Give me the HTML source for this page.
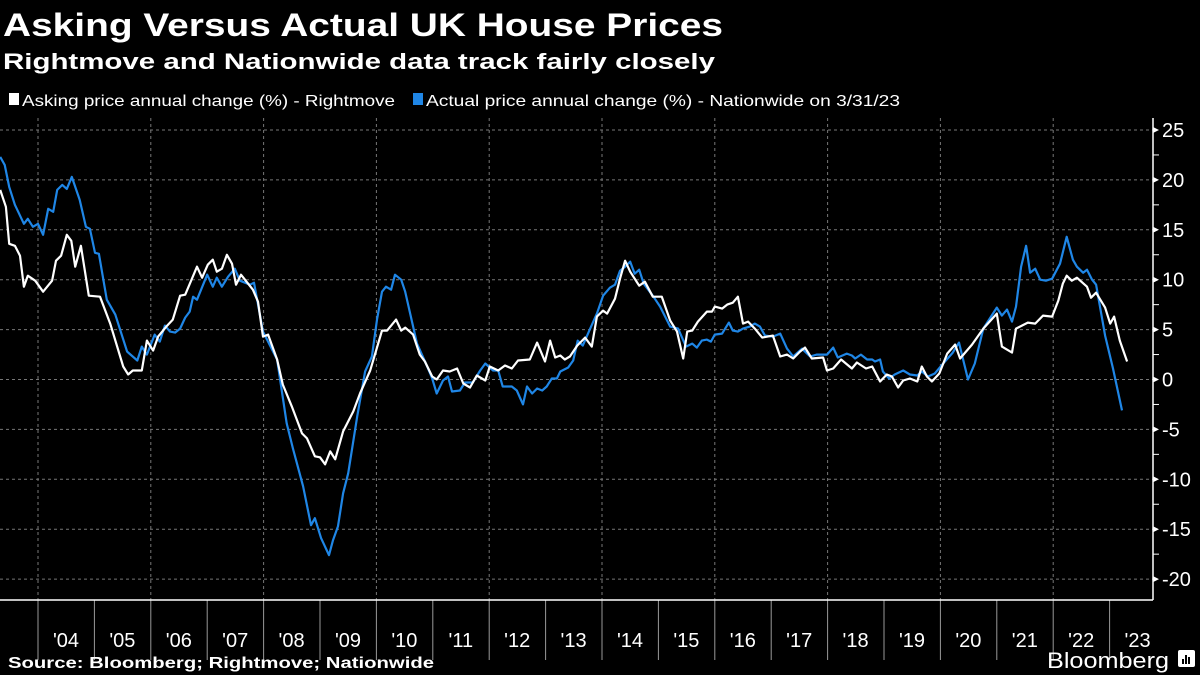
<!DOCTYPE html>
<html><head><meta charset="utf-8"><style>
html,body{margin:0;padding:0;background:#000;}
svg{display:block;}
text{font-family:"Liberation Sans",sans-serif;fill:#fff;}
</style></head><body>
<svg id="chart" width="1200" height="675" viewBox="0 0 1200 675" xmlns="http://www.w3.org/2000/svg">
<rect width="1200" height="675" fill="#000"/>
<text x="3" y="36" font-size="32" font-weight="bold" textLength="720" lengthAdjust="spacingAndGlyphs">Asking Versus Actual UK House Prices</text>
<text x="3" y="69" font-size="22" font-weight="bold" textLength="712" lengthAdjust="spacingAndGlyphs">Rightmove and Nationwide data track fairly closely</text>
<g>
<rect x="9" y="93" width="10" height="12" fill="#fff"/>
<text x="22" y="106" font-size="16" textLength="373" lengthAdjust="spacingAndGlyphs">Asking price annual change (%) - Rightmove</text>
<rect x="413" y="93" width="10" height="12" fill="#1f86e6"/>
<text x="426" y="106" font-size="16" textLength="474" lengthAdjust="spacingAndGlyphs">Actual price annual change (%) - Nationwide on 3/31/23</text>
</g>
<g id="grid"></g>
<g id="axes"></g>
<g id="series"></g>
<text x="8" y="668" font-size="16" font-weight="bold" textLength="426" lengthAdjust="spacingAndGlyphs">Source: Bloomberg; Rightmove; Nationwide</text>
<text x="1047" y="668" font-size="22" textLength="122" lengthAdjust="spacingAndGlyphs">Bloomberg</text>
<g><rect x="1178" y="650" width="17" height="17" rx="2" fill="#fff"/><rect x="1182" y="659" width="2" height="5" fill="#000"/><rect x="1185" y="655" width="2" height="9" fill="#000"/><rect x="1188" y="657" width="2" height="7" fill="#000"/></g>
</svg>
<script>
const rmDates=[2003.33,2003.43,2003.49,2003.59,2003.68,2003.75,2003.82,2003.95,2004.09,2004.25,2004.32,2004.41,2004.51,2004.59,2004.66,2004.76,2004.90,2005.10,2005.28,2005.51,2005.60,2005.68,2005.84,2005.93,2006.04,2006.13,2006.29,2006.39,2006.52,2006.61,2006.82,2006.91,2007.01,2007.10,2007.17,2007.26,2007.35,2007.44,2007.51,2007.60,2007.81,2007.90,2007.99,2008.08,2008.24,2008.34,2008.50,2008.68,2008.77,2008.91,2009.00,2009.09,2009.18,2009.27,2009.41,2009.59,2009.71,2009.89,2010.10,2010.19,2010.35,2010.44,2010.51,2010.65,2010.77,2010.86,2010.99,2011.07,2011.18,2011.30,2011.43,2011.54,2011.66,2011.78,2011.93,2012.01,2012.16,2012.28,2012.40,2012.51,2012.72,2012.85,2012.99,2013.08,2013.17,2013.26,2013.34,2013.43,2013.56,2013.70,2013.82,2013.91,2014.02,2014.09,2014.23,2014.32,2014.41,2014.50,2014.66,2014.76,2014.90,2015.06,2015.21,2015.33,2015.44,2015.51,2015.60,2015.70,2015.86,2015.95,2016.00,2016.13,2016.22,2016.32,2016.41,2016.50,2016.59,2016.71,2016.84,2017.03,2017.16,2017.28,2017.39,2017.51,2017.60,2017.72,2017.92,2017.99,2018.10,2018.24,2018.43,2018.52,2018.68,2018.79,2018.93,2019.05,2019.14,2019.25,2019.34,2019.46,2019.59,2019.67,2019.76,2019.85,2019.98,2020.12,2020.26,2020.35,2020.56,2020.76,2021.00,2021.09,2021.27,2021.34,2021.55,2021.68,2021.82,2021.98,2022.09,2022.17,2022.24,2022.33,2022.42,2022.60,2022.67,2022.76,2022.92,2023.01,2023.08,2023.18,2023.31];
const rmValues=[19.0,17.3,13.6,13.4,12.4,9.3,10.4,9.9,8.8,9.9,11.9,12.4,14.5,13.9,11.3,13.4,8.4,8.3,5.6,1.3,0.5,0.9,0.9,3.9,2.9,4.3,5.4,6.0,8.4,8.5,11.3,10.2,11.5,12.0,10.8,11.1,12.5,11.6,9.5,10.5,9.0,7.8,4.3,4.5,2.0,-0.5,-2.7,-5.4,-5.9,-7.7,-7.8,-8.5,-7.2,-8.0,-5.2,-3.2,-1.4,0.9,4.9,4.9,6.0,4.9,5.2,4.5,2.5,1.8,0.3,0.0,0.9,0.8,1.1,-0.4,-0.8,0.4,-0.1,1.3,0.9,1.4,1.1,1.9,2.0,3.7,1.8,3.9,2.2,2.4,2.0,2.3,3.4,4.2,3.3,6.3,6.9,6.6,8.1,10.1,11.9,10.8,9.4,9.8,8.3,8.3,5.9,4.8,2.1,4.8,4.9,5.8,6.8,6.8,7.3,7.1,7.5,7.7,8.3,5.6,5.8,5.1,4.2,4.4,2.3,2.5,2.1,2.8,3.2,2.1,2.2,0.9,1.1,2.0,1.1,1.7,1.1,1.3,-0.2,0.5,0.3,-0.8,-0.1,0.1,-0.2,1.3,0.3,-0.2,0.6,2.6,3.5,2.1,3.5,5.1,6.6,3.3,2.7,5.1,5.7,5.6,6.4,6.3,7.9,9.6,10.4,9.9,10.2,9.3,8.2,8.7,7.2,5.6,6.3,3.9,1.8];
const nwDates=[2003.33,2003.41,2003.49,2003.59,2003.75,2003.82,2003.91,2004.00,2004.09,2004.18,2004.27,2004.34,2004.43,2004.51,2004.60,2004.74,2004.85,2004.92,2005.01,2005.08,2005.22,2005.37,2005.58,2005.76,2005.84,2005.93,2006.07,2006.16,2006.25,2006.34,2006.43,2006.52,2006.61,2006.69,2006.75,2006.82,2007.00,2007.10,2007.17,2007.26,2007.37,2007.49,2007.58,2007.76,2007.83,2007.99,2008.24,2008.41,2008.52,2008.70,2008.84,2008.91,2009.02,2009.16,2009.23,2009.32,2009.41,2009.50,2009.66,2009.80,2009.92,2010.01,2010.10,2010.17,2010.26,2010.33,2010.44,2010.51,2010.72,2010.90,2010.99,2011.07,2011.18,2011.27,2011.34,2011.48,2011.57,2011.71,2011.84,2011.93,2012.07,2012.16,2012.24,2012.40,2012.49,2012.60,2012.67,2012.76,2012.85,2012.94,2013.02,2013.11,2013.20,2013.26,2013.40,2013.49,2013.57,2013.66,2013.79,2013.91,2014.02,2014.14,2014.23,2014.32,2014.41,2014.50,2014.58,2014.66,2014.74,2014.90,2015.03,2015.21,2015.35,2015.49,2015.60,2015.68,2015.77,2015.86,2015.93,2016.00,2016.13,2016.25,2016.32,2016.41,2016.50,2016.62,2016.71,2016.80,2016.89,2017.03,2017.16,2017.28,2017.39,2017.55,2017.60,2017.69,2017.81,2017.99,2018.10,2018.18,2018.34,2018.43,2018.49,2018.59,2018.70,2018.79,2018.84,2018.93,2018.98,2019.09,2019.19,2019.34,2019.46,2019.59,2019.67,2019.78,2019.90,2020.05,2020.22,2020.33,2020.49,2020.61,2020.76,2021.00,2021.09,2021.18,2021.27,2021.34,2021.43,2021.52,2021.59,2021.68,2021.77,2021.87,2021.98,2022.12,2022.24,2022.35,2022.42,2022.53,2022.60,2022.69,2022.76,2022.92,2023.06,2023.22];
const nwValues=[22.3,21.5,19.3,17.5,15.6,16.1,15.3,15.6,14.5,17.1,16.8,19.0,19.5,19.1,20.3,18.0,15.3,15.1,12.7,12.6,8.0,6.5,2.8,1.9,3.3,2.5,4.5,3.8,5.4,4.8,4.7,5.1,6.2,6.8,8.3,8.0,10.5,9.3,10.2,9.3,10.3,11.1,9.9,9.5,9.7,4.8,2.0,-4.4,-6.9,-10.7,-14.6,-13.9,-15.9,-17.6,-16.1,-14.7,-11.4,-9.4,-3.7,0.8,2.3,6.0,8.8,9.3,9.0,10.5,10.0,8.8,3.6,1.3,0.1,-1.4,-0.1,0.3,-1.2,-1.1,-0.3,-0.3,0.9,1.6,0.9,0.9,-0.7,-0.7,-1.1,-2.5,-0.7,-1.4,-0.9,-1.1,-0.7,0.1,0.1,0.8,1.2,1.9,3.9,3.4,5.1,6.6,8.4,9.2,9.5,10.9,11.3,11.8,10.6,11.0,9.6,8.4,7.3,5.3,5.1,3.3,3.6,3.2,3.9,4.0,3.8,4.5,4.6,5.7,4.9,4.8,5.1,5.3,5.6,5.3,4.4,4.3,4.6,3.1,2.3,3.1,2.8,2.3,2.5,2.5,3.2,2.2,2.6,2.4,2.1,2.5,2.0,2.0,1.8,2.0,0.8,0.1,0.5,0.9,0.5,0.4,0.8,0.3,0.6,1.6,2.7,3.7,0.0,1.6,5.1,7.2,6.4,7.0,5.8,7.3,11.3,13.4,10.7,11.1,10.0,9.9,10.1,11.6,14.3,12.0,11.3,10.7,11.0,10.0,9.5,4.4,1.1,-3.1];
const yTicks=[25,20,15,10,5,0,-5,-10,-15,-20];
const yearLabels=["'04","'05","'06","'07","'08","'09","'10","'11","'12","'13","'14","'15","'16","'17","'18","'19","'20","'21","'22","'23"];
const firstYear=2004;

const NS="http://www.w3.org/2000/svg";
const xS=y=>38+(y-2004)*56.4;
const yS=v=>379.5-v*9.98;
const PLOT_R=1153, AXIS_Y=600;
function mk(tag,attrs,parent){const e=document.createElementNS(NS,tag);for(const k in attrs)e.setAttribute(k,attrs[k]);parent.appendChild(e);return e;}
const grid=document.getElementById('grid'),axes=document.getElementById('axes'),series=document.getElementById('series');
const yMin=Math.min(...yTicks);
yTicks.forEach(t=>{
  const l=mk('line',{x1:0,x2:PLOT_R,y1:yS(t),y2:yS(t),stroke:'#777','stroke-width':1,'stroke-dasharray':'3,3'},grid);
  
  
  const tk=mk('path',{d:`M${PLOT_R} ${yS(t)-3} L${PLOT_R+6} ${yS(t)} L${PLOT_R} ${yS(t)+3}Z`,fill:'#fff'},axes);
  
  
  if(t>yMin){
    const m=mk('line',{x1:PLOT_R,x2:PLOT_R+6,y1:yS(t-2.5),y2:yS(t-2.5),stroke:'#fff','stroke-width':1},axes);
    
    
  }
  const tx=mk('text',{x:PLOT_R+9,y:yS(t)+7,'font-size':20},axes);
  tx.textContent=t;
  
  
});
yearLabels.forEach((lab,i)=>{
  const yr=firstYear+i;
  if(i%2===0&&yr<2023){
    const g=mk('line',{x1:xS(yr),x2:xS(yr),y1:118,y2:AXIS_Y,stroke:'#777','stroke-width':1,'stroke-dasharray':'3,3'},grid);
    
    
  }
  const tk=mk('line',{x1:xS(yr),x2:xS(yr),y1:AXIS_Y,y2:660,stroke:'#999','stroke-width':1},axes);
  
  
  const tx=mk('text',{x:xS(yr)+28,y:647,'font-size':20,'text-anchor':'middle'},axes);
  tx.textContent=lab;
  
  
});
const xa=mk('line',{x1:0,x2:PLOT_R,y1:AXIS_Y,y2:AXIS_Y,stroke:'#fff','stroke-width':1.5},axes);


const ya=mk('line',{x1:PLOT_R,x2:PLOT_R,y1:118,y2:AXIS_Y,stroke:'#fff','stroke-width':1.5},axes);


function line(d,v,color,name){
  const pts=d.map((x,i)=>xS(x).toFixed(1)+','+yS(v[i]).toFixed(1)).join(' ');
  const p=mk('polyline',{points:pts,fill:'none',stroke:color,'stroke-width':2.2,'stroke-linejoin':'round'},series);
  
  
}
line(nwDates,nwValues,'#1f86e6','nationwide-line');
line(rmDates,rmValues,'#ffffff','rightmove-line');
</script>
</body></html>
